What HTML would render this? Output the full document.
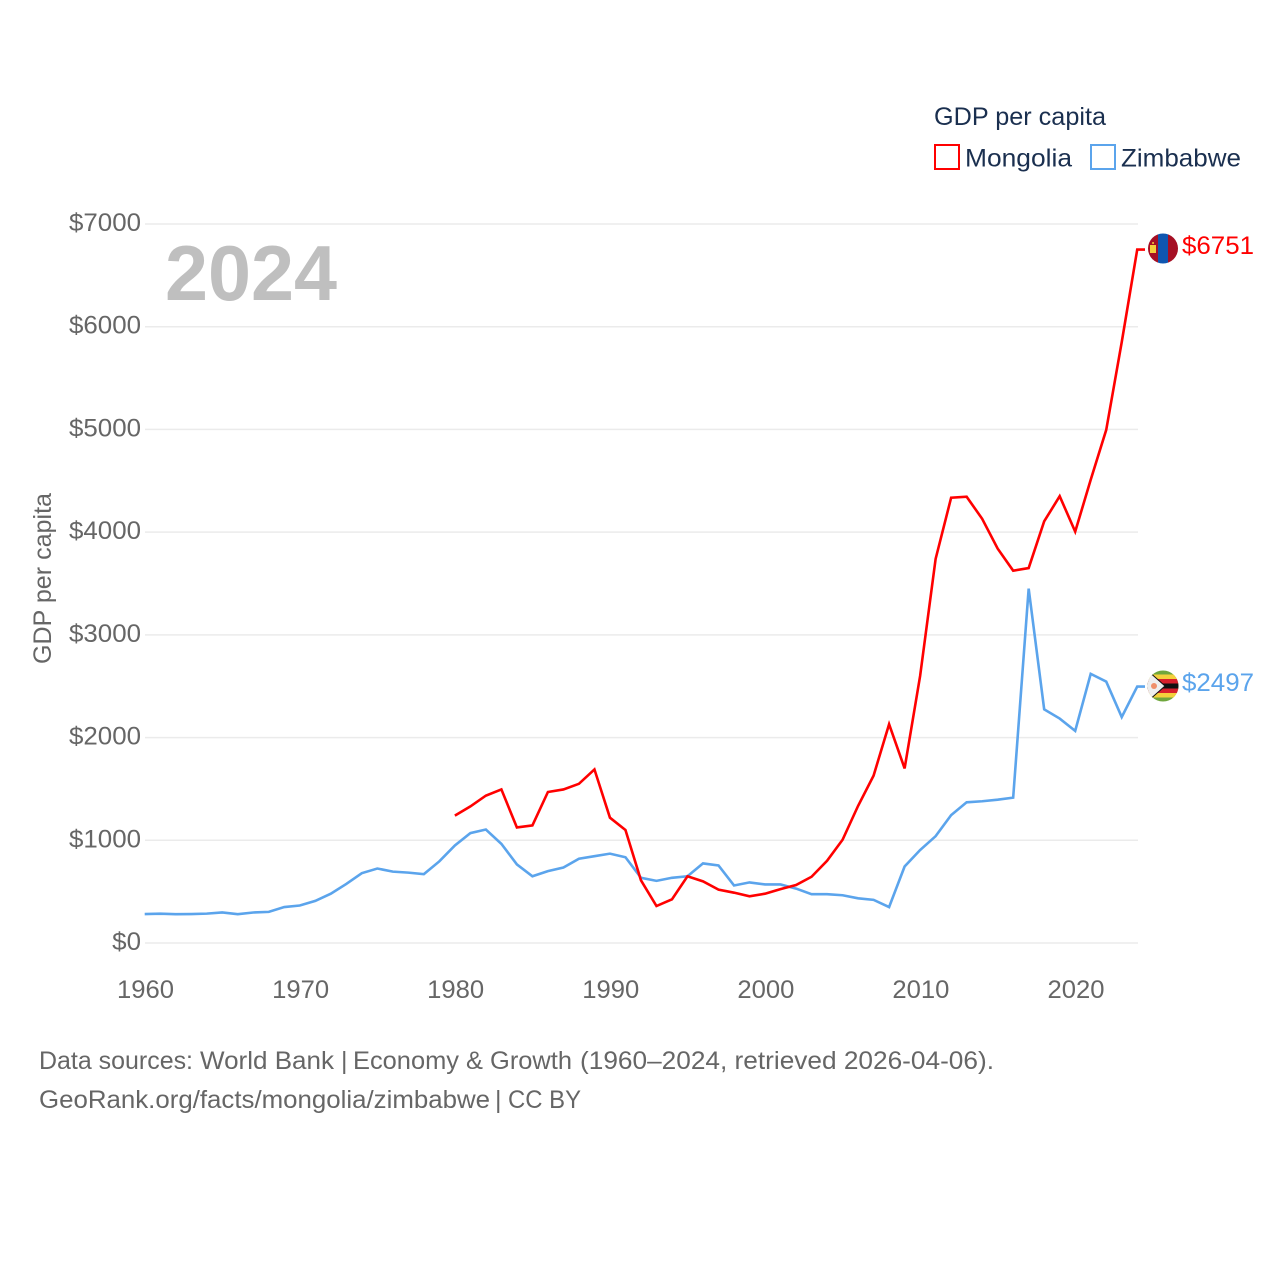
<!DOCTYPE html>
<html lang="en">
<head>
<meta charset="utf-8">
<title>GDP per capita: Mongolia and Zimbabwe</title>
<style>
html,body{margin:0;padding:0;background:#fff;}
svg{display:block;font-family:"Liberation Sans",sans-serif;}
</style>
</head>
<body>
<svg id="chart" width="1280" height="1280" viewBox="0 0 1280 1280" xmlns="http://www.w3.org/2000/svg">
  <defs>
    <clipPath id="clip-mn"><circle cx="1163" cy="248.5" r="15"/></clipPath>
    <clipPath id="clip-zw"><circle cx="1163" cy="686" r="15.500"/></clipPath>
  </defs>
  <rect width="1280" height="1280" fill="#fff"/>
  <g id="grid"></g>
  <g id="y-ticks"></g>
  <g id="x-ticks"></g>
  <text x="165" y="300" font-size="78" font-weight="700" fill="#bfbfbf" textLength="172" lengthAdjust="spacingAndGlyphs">2024</text>
  <text transform="translate(51,664) rotate(-90)" font-size="25" fill="#666" textLength="171" lengthAdjust="spacingAndGlyphs">GDP per capita</text>
  <g id="series"></g>

  <g clip-path="url(#clip-mn)">
    <rect x="1148" y="233" width="10" height="31" fill="#a50f24"/>
    <rect x="1158" y="233" width="10" height="31" fill="#0f56b0"/>
    <rect x="1168" y="233" width="10" height="31" fill="#a50f24"/>
    <rect x="1150" y="245" width="6" height="8" fill="#f4cf3c"/>
    <rect x="1152.300" y="242" width="1.500" height="2" fill="#f4cf3c"/>
  </g>
  <text id="value-mongolia" x="1182" y="254" font-size="25" fill="#ff0000" textLength="72" lengthAdjust="spacingAndGlyphs">$6751</text>

  <g clip-path="url(#clip-zw)">
    <rect x="1147" y="670" width="32" height="32" fill="#6fa63c"/>
    <rect x="1147" y="674.500" width="32" height="4.500" fill="#f4d03c"/>
    <rect x="1147" y="679" width="32" height="4.500" fill="#d8202c"/>
    <rect x="1147" y="683.500" width="32" height="5" fill="#111"/>
    <rect x="1147" y="688.500" width="32" height="4.500" fill="#d8202c"/>
    <rect x="1147" y="693" width="32" height="4.500" fill="#f4d03c"/>
    <polygon points="1147,670 1165,686 1147,702" fill="#eee" stroke="#111" stroke-width="1"/>
    <circle cx="1154" cy="686" r="3" fill="#ef8f6a"/>
  </g>
  <text id="value-zimbabwe" x="1182" y="691" font-size="25" fill="#5ba4ec" textLength="72" lengthAdjust="spacingAndGlyphs">$2497</text>

  <g>
    <text x="934" y="125" font-size="25" fill="#1a2f4f" textLength="172" lengthAdjust="spacingAndGlyphs">GDP per capita</text>
    <g>
      <rect x="935" y="145" width="24" height="24" fill="#fff" stroke="#ff0000" stroke-width="2"/>
      <text x="965" y="166.500" font-size="25" fill="#1a2f4f" textLength="107" lengthAdjust="spacingAndGlyphs">Mongolia</text>
    </g>
    <g>
      <rect x="1091" y="145" width="24" height="24" fill="#fff" stroke="#5ba4ec" stroke-width="2"/>
      <text x="1121" y="166.500" font-size="25" fill="#1a2f4f" textLength="120" lengthAdjust="spacingAndGlyphs">Zimbabwe</text>
    </g>
  </g>

  <g font-size="25" fill="#666">
    <text x="39" y="1069" textLength="154" lengthAdjust="spacingAndGlyphs">Data sources:</text>
    <text x="200" y="1069" textLength="134" lengthAdjust="spacingAndGlyphs">World Bank</text>
    <text x="341" y="1069">|</text>
    <text x="353" y="1069" textLength="219" lengthAdjust="spacingAndGlyphs">Economy &amp; Growth</text>
    <text x="580" y="1069" textLength="414" lengthAdjust="spacingAndGlyphs">(1960–2024, retrieved 2026-04-06).</text>
  </g>
  <g font-size="25" fill="#666">
    <text x="39" y="1108" textLength="451" lengthAdjust="spacingAndGlyphs">GeoRank.org/facts/mongolia/zimbabwe</text>
    <text x="495" y="1108">|</text>
    <text x="508" y="1108" textLength="73" lengthAdjust="spacingAndGlyphs">CC BY</text>
  </g>
</svg>
<script>
var yTickValues = [0, 1000, 2000, 3000, 4000, 5000, 6000, 7000];
var yTickLabels = ["$0", "$1000", "$2000", "$3000", "$4000", "$5000", "$6000", "$7000"];
var xTickYears = [1960, 1970, 1980, 1990, 2000, 2010, 2020];
var zimbabweStartYear = 1960;
var zimbabweValues = [282, 285, 281, 282, 286, 297, 281, 297, 303, 350,
  365, 410, 480, 575, 680, 725, 695, 685, 670, 795,
  950, 1070, 1105, 965, 765, 650, 700, 735, 820, 845,
  870, 835, 635, 605, 635, 650, 775, 755, 560, 590,
  570, 570, 530, 475, 475, 465, 435, 420, 350, 745,
  905, 1040, 1245, 1370, 1380, 1395, 1415, 3450, 2275, 2185,
  2065, 2620, 2545, 2200, 2497];
var mongoliaStartYear = 1980;
var mongoliaValues = [1240, 1330, 1435, 1495, 1125, 1145, 1470, 1495, 1550, 1690,
  1220, 1100, 610, 360, 425, 650, 600, 520, 490, 455,
  480, 525, 565, 645, 800, 1005, 1335, 1630, 2130, 1700,
  2600, 3740, 4335, 4345, 4130, 3840, 3625, 3650, 4105, 4350,
  4005, 4510, 4995, 5850, 6751];

var NS = "http://www.w3.org/2000/svg";
function xScale(year) { return 145.5 + (year - 1960) * (1076 - 145.5) / 60; }
function lineX(year) { return xScale(year) - 0.8; }
function yScale(v) { return 943 - v * (943 - 224) / 7000; }

var gridGroup = document.getElementById("grid");
var yGroup = document.getElementById("y-ticks");
var xGroup = document.getElementById("x-ticks");
var seriesGroup = document.getElementById("series");

yTickValues.forEach(function (v, i) {
  var line = document.createElementNS(NS, "line");
  
  
  line.setAttribute("x1", 145);
  line.setAttribute("x2", 1138);
  line.setAttribute("y1", yScale(v));
  line.setAttribute("y2", yScale(v));
  line.setAttribute("stroke", "#ebebeb");
  line.setAttribute("stroke-width", "1.500");
  gridGroup.appendChild(line);

  var label = document.createElementNS(NS, "text");
  
  
  label.setAttribute("x", 141);
  label.setAttribute("y", yScale(v) + 7);
  label.setAttribute("text-anchor", "end");
  label.setAttribute("font-size", "25");
  label.setAttribute("fill", "#666");
  label.setAttribute("textLength", 14.4 * yTickLabels[i].length);
  label.setAttribute("lengthAdjust", "spacingAndGlyphs");
  label.textContent = yTickLabels[i];
  yGroup.appendChild(label);
});

xTickYears.forEach(function (year) {
  var label = document.createElementNS(NS, "text");
  
  
  label.setAttribute("x", xScale(year));
  label.setAttribute("y", 998);
  label.setAttribute("text-anchor", "middle");
  label.setAttribute("font-size", "25");
  label.setAttribute("fill", "#666");
  label.setAttribute("textLength", "57");
  label.setAttribute("lengthAdjust", "spacingAndGlyphs");
  label.textContent = String(year);
  xGroup.appendChild(label);
});

function linePoints(values, startYear) {
  return values.map(function (v, i) {
    return lineX(startYear + i).toFixed(2) + "," + yScale(v).toFixed(2);
  });
}

var zimbabwePts = linePoints(zimbabweValues, zimbabweStartYear);
zimbabwePts.push("1145," + yScale(zimbabweValues[zimbabweValues.length - 1]).toFixed(2));
var zimbabweLine = document.createElementNS(NS, "polyline");


zimbabweLine.setAttribute("points", zimbabwePts.join(" "));
zimbabweLine.setAttribute("fill", "none");
zimbabweLine.setAttribute("stroke", "#5ba4ec");
zimbabweLine.setAttribute("stroke-width", "2.600");
zimbabweLine.setAttribute("stroke-linejoin", "miter");
seriesGroup.appendChild(zimbabweLine);

var mongoliaPts = linePoints(mongoliaValues, mongoliaStartYear);
mongoliaPts.push("1145," + yScale(mongoliaValues[mongoliaValues.length - 1]).toFixed(2));
var mongoliaLine = document.createElementNS(NS, "polyline");


mongoliaLine.setAttribute("points", mongoliaPts.join(" "));
mongoliaLine.setAttribute("fill", "none");
mongoliaLine.setAttribute("stroke", "#ff0000");
mongoliaLine.setAttribute("stroke-width", "2.600");
mongoliaLine.setAttribute("stroke-linejoin", "miter");
seriesGroup.appendChild(mongoliaLine);
</script>
</body>
</html>
